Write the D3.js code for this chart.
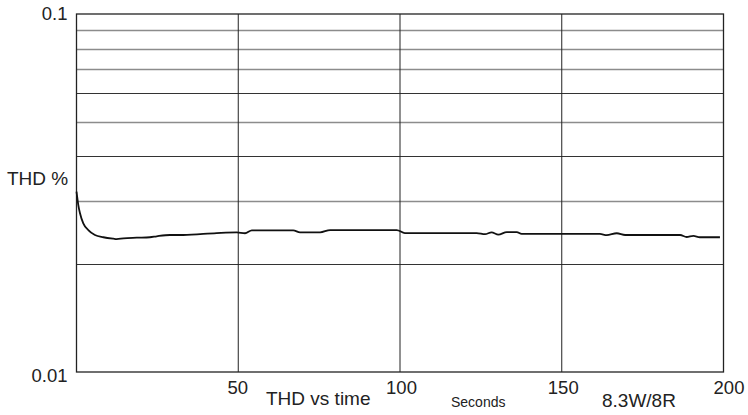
<!DOCTYPE html>
<html>
<head>
<meta charset="utf-8">
<script src="https://cdn.jsdelivr.net/npm/d3@7"></script>
<style>
  html, body { margin: 0; padding: 0; background: #fff; }
  svg { display: block; font-family: "Liberation Sans", Arial, sans-serif; }
</style>
</head>
<body>
<svg id="chart" width="748" height="415"></svg>
<script>
// ---- data ----
const timeSec = [0, 0.56, 1.08, 2.1, 3.65, 5.7, 8.3, 11.4, 12.4, 14.5, 18.6, 22.7, 24.8, 28.9, 33, 43.3, 49.5, 52.1, 54.2, 67, 69.1, 75.3, 78.4, 99, 101.5, 123.7, 126.3, 128.3, 130.4, 133, 136.1, 137.6, 161.8, 163.9, 167, 169.6, 186.6, 188.6, 190.7, 192.7, 198.9];
const thdPercent = [0.0319, 0.02927, 0.02776, 0.02602, 0.02492, 0.02414, 0.02379, 0.02357, 0.02352, 0.02363, 0.02372, 0.02379, 0.02394, 0.02414, 0.02414, 0.02444, 0.02455, 0.02441, 0.02487, 0.02487, 0.02455, 0.02455, 0.02492, 0.02492, 0.02444, 0.02444, 0.02426, 0.02455, 0.02419, 0.0246, 0.0246, 0.0243, 0.0243, 0.02411, 0.02441, 0.02414, 0.02414, 0.02383, 0.02399, 0.02379, 0.02379];
const xTickValues = [50, 100, 150, 200];
const xGridValues = [50, 100, 150];
const yTickValues = [0.01, 0.1];
const yGridValues = [0.02, 0.03, 0.04, 0.05, 0.06, 0.07, 0.08, 0.09];
const yAxisTitle = "THD %";
const chartTitle = "THD vs time";
const xAxisTitle = "Seconds";
const conditionLabel = "8.3W/8R";

// ---- layout ----
const svg = d3.select("#chart");
const pLeft = 76.5, pRight = 723.5, pTop = 14, pBottom = 372;

const x = d3.scaleLinear().domain([0, 200]).range([pLeft, pRight]);
const y = d3.scaleLog().domain([0.01, 0.1]).range([pBottom, pTop]);

// horizontal grid
const darkGrid = new Set([0.02, 0.04, 0.06]);
svg.append("g").selectAll("line").data(yGridValues).join("line")
  .attr("x1", pLeft).attr("x2", pRight)
  .attr("y1", d => Math.round(y(d)) + 0.5).attr("y2", d => Math.round(y(d)) + 0.5)
  .attr("stroke", d => darkGrid.has(d) ? "#333" : "#8c8c8c")
  .attr("stroke-width", d => darkGrid.has(d) ? 1 : 1.4);

// vertical grid
svg.append("g").selectAll("line").data(xGridValues).join("line")
  .attr("x1", d => x(d)).attr("x2", d => x(d))
  .attr("y1", pTop).attr("y2", pBottom)
  .attr("stroke", "#222").attr("stroke-width", 1);

// frame
svg.append("rect")
  .attr("x", pLeft).attr("y", pTop)
  .attr("width", pRight - pLeft).attr("height", pBottom - pTop)
  .attr("fill", "none").attr("stroke", "#222").attr("stroke-width", 1.3);

// axes (labels only)
const xAxis = svg.append("g")
  .attr("transform", `translate(0,${pBottom})`)
  .call(d3.axisBottom(x).tickValues(xTickValues).tickSize(0).tickPadding(9).tickFormat(d3.format("d")));
xAxis.select(".domain").remove();
xAxis.selectAll("text").attr("font-size", 18.5).attr("fill", "#222")
  .attr("font-family", "'Liberation Sans', Arial, sans-serif")
  .attr("dx", d => d === 200 ? 5 : (d === 50 ? -1 : 1));

const yAxis = svg.append("g")
  .attr("transform", `translate(${pLeft},0)`)
  .call(d3.axisLeft(y).tickValues(yTickValues).tickSize(0).tickPadding(9).tickFormat(d => String(d)));
yAxis.select(".domain").remove();
yAxis.selectAll("text").attr("font-size", 18.5).attr("fill", "#222")
  .attr("font-family", "'Liberation Sans', Arial, sans-serif")
  .attr("dy", d => d === 0.01 ? "0.5em" : "0.32em");

// texts
svg.append("text").attr("x", 7).attr("y", 185)
  .attr("font-size", 19).attr("fill", "#222").text(yAxisTitle);
svg.append("text").attr("x", 266).attr("y", 405)
  .attr("font-size", 19).attr("fill", "#222").text(chartTitle);
svg.append("text").attr("x", 451).attr("y", 407)
  .attr("font-size", 14).attr("fill", "#222").text(xAxisTitle);
svg.append("text").attr("x", 602).attr("y", 407)
  .attr("font-size", 19).attr("fill", "#222").text(conditionLabel);

// curve
const pts = timeSec.map((t, i) => [t, thdPercent[i]]);
const line = d3.line().x(d => x(d[0])).y(d => y(d[1])).curve(d3.curveMonotoneX);
svg.append("path").datum(pts)
  .attr("d", line)
  .attr("fill", "none").attr("stroke", "#111").attr("stroke-width", 1.8)
  .attr("stroke-linejoin", "round");
</script>
</body>
</html>
